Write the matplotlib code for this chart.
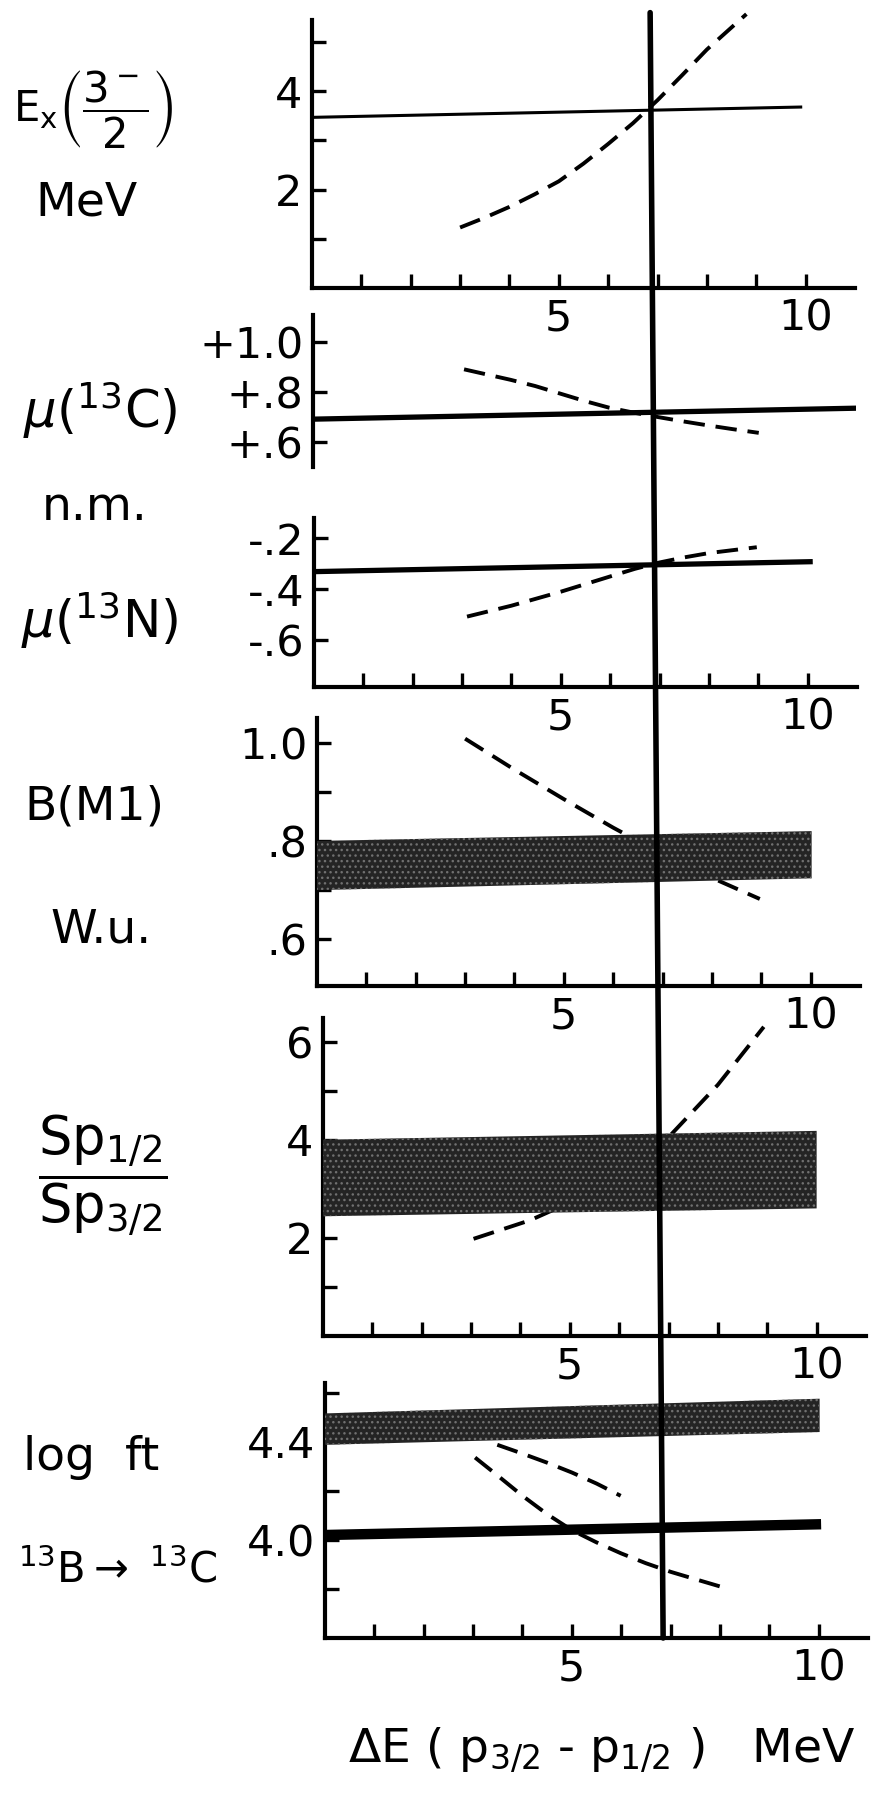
"""
plot.py - shell model comparison for A=13 vs the p3/2-p1/2 splitting
"""

import matplotlib
matplotlib.use('Agg')
import matplotlib.pyplot as plt
from matplotlib.patches import ConnectionPatch

plt.rcParams['font.family'] = ['DejaVu Sans']
plt.rcParams['mathtext.fontset'] = 'dejavusans'
plt.rcParams['mathtext.default'] = 'regular'

W, H = 881, 1809

# spin-orbit splitting where the calculation fits best
de_cross = 6.85

# Ex(3/2-)
ex_exp_x = [0, 9.9]
ex_exp_y = [3.47, 3.68]
ex_calc_x = [3.0, 3.5, 4.0, 4.5, 5.0, 5.5, 6.0, 6.5, 7.0, 7.5, 8.0, 8.5, 8.8]
ex_calc_y = [1.23, 1.43, 1.65, 1.9, 2.17, 2.53, 2.93, 3.35, 3.82, 4.33,
             4.85, 5.3, 5.57]

# mu(13C)
muc_exp_x = [0, 11]
muc_exp_y = [0.692, 0.736]
muc_calc_x = [3.06, 4.0, 4.5, 5.0, 5.5, 6.0, 6.5, 7.0, 7.5, 8.0, 8.5, 9.03]
muc_calc_y = [0.892, 0.85, 0.825, 0.795, 0.765, 0.738, 0.718, 0.7, 0.683,
              0.667, 0.652, 0.637]

# mu(13N)
mun_exp_x = [0, 10.05]
mun_exp_y = [-0.331, -0.292]
mun_calc_x = [3.1, 4.0, 5.0, 6.0, 6.5, 7.0, 7.5, 8.0, 8.97]
mun_calc_y = [-0.508, -0.465, -0.41, -0.35, -0.32, -0.295, -0.275, -0.258,
              -0.235]

# B(M1)
bm1_band_x = [0, 10.02]
bm1_band_lo = [0.70, 0.724]
bm1_band_hi = [0.80, 0.82]
bm1_calc_x = [3.0, 4.0, 5.0, 6.0, 7.0, 8.0, 8.97]
bm1_calc_y = [1.008, 0.945, 0.885, 0.827, 0.773, 0.725, 0.682]

# Sp1/2 / Sp3/2
sp_band_x = [0, 10.0]
sp_band_lo = [2.44, 2.6]
sp_band_hi = [4.0, 4.18]
sp_calc_x = [3.05, 4.2, 5.0, 6.0, 7.0, 8.0, 8.93]
sp_calc_y = [1.98, 2.36, 2.72, 3.28, 4.05, 5.12, 6.3]

# log ft 13B -> 13C
ft_band_x = [0, 10.02]
ft_band_lo = [4.388, 4.44]
ft_band_hi = [4.516, 4.576]
ft_exp_x = [0, 10.05]
ft_exp_y = [4.02, 4.064]
ft_calc1_x = [3.49, 4.0, 4.5, 5.0, 5.5, 5.99]
ft_calc1_y = [4.388, 4.352, 4.315, 4.275, 4.23, 4.18]
ft_calc2_x = [3.04, 3.5, 4.0, 4.5, 5.0, 5.5, 6.0, 6.5, 7.0, 7.5, 8.04]
ft_calc2_y = [4.336, 4.262, 4.18, 4.105, 4.04, 3.99, 3.945, 3.905, 3.87,
              3.84, 3.808]

x_ticks = list(range(1, 11))
x_ticklabels = ['', '', '', '', '5', '', '', '', '', '10']

FS = 34
TFS = 31
AX_W = 543


def px_axes(fig, left, top, bottom):
    return fig.add_axes([left / W, 1 - bottom / H, AX_W / W, (bottom - top) / H])


def setup(ax, ylim, yticks, ylabels, xaxis=True):
    ax.set_xlim(0, 11)
    ax.set_ylim(*ylim)
    ax.patch.set_visible(False)
    for s in ['top', 'right']:
        ax.spines[s].set_visible(False)
    ax.spines['left'].set_linewidth(3)
    ax.spines['bottom'].set_linewidth(3)
    ax.set_yticks(yticks)
    ax.set_yticklabels(ylabels)
    ax.tick_params(axis='y', direction='in', length=10, width=2.4,
                   pad=7, labelsize=TFS)
    if xaxis:
        ax.set_xticks(x_ticks)
        ax.set_xticklabels(x_ticklabels)
        ax.tick_params(axis='x', direction='in', length=10, width=2.4,
                       pad=7, labelsize=TFS)
    else:
        ax.spines['bottom'].set_visible(False)
        ax.set_xticks([])


def dashed(ax, x, y):
    ax.plot(x, y, color='black', linewidth=2.8, dashes=(5.5, 2.8),
            clip_on=False, zorder=2)


def band(ax, x, lo, hi):
    ax.fill_between(x, lo, hi, facecolor='#242424', edgecolor='#707070',
                    hatch='...', linewidth=0, zorder=3)


def label(fig, x, y, s, size=FS):
    fig.text(x / W, 1 - y / H, s, fontsize=size, ha='center', va='center')


fig = plt.figure(figsize=(W / 100, H / 100), dpi=100)

ax1 = px_axes(fig, 312, 20, 288)
setup(ax1, (0, 5.45), [1, 2, 3, 4, 5], ['', '2', '', '4', ''])
ax1.plot(ex_exp_x, ex_exp_y, color='black', linewidth=2.2, zorder=2)
dashed(ax1, ex_calc_x, ex_calc_y)

ax2 = px_axes(fig, 313, 315, 467)
setup(ax2, (0.5, 1.11), [0.6, 0.8, 1.0], ['+.6', '+.8', '+1.0'], xaxis=False)
ax2.plot(muc_exp_x, muc_exp_y, color='black', linewidth=3.8, zorder=2)
dashed(ax2, muc_calc_x, muc_calc_y)

ax3 = px_axes(fig, 314, 518, 687)
setup(ax3, (-0.785, -0.12), [-0.6, -0.4, -0.2], ['-.6', '-.4', '-.2'])
ax3.plot(mun_exp_x, mun_exp_y, color='black', linewidth=3.8, zorder=2)
dashed(ax3, mun_calc_x, mun_calc_y)

ax4 = px_axes(fig, 317, 718, 986)
setup(ax4, (0.505, 1.05), [0.6, 0.7, 0.8, 0.9, 1.0],
      ['.6', '', '.8', '', '1.0'])
band(ax4, bm1_band_x, bm1_band_lo, bm1_band_hi)
dashed(ax4, bm1_calc_x, bm1_calc_y)

ax5 = px_axes(fig, 323, 1018, 1336)
setup(ax5, (0, 6.48), [1, 2, 3, 4, 5, 6], ['', '2', '', '4', '', '6'])
band(ax5, sp_band_x, sp_band_lo, sp_band_hi)
dashed(ax5, sp_calc_x, sp_calc_y)

ax6 = px_axes(fig, 325, 1383, 1638)
setup(ax6, (3.6, 4.64), [3.8, 4.0, 4.2, 4.4, 4.6],
      ['', '4.0', '', '4.4', ''])
band(ax6, ft_band_x, ft_band_lo, ft_band_hi)
ax6.plot(ft_exp_x, ft_exp_y, color='black', linewidth=7.5, zorder=3,
         solid_capstyle='butt')
dashed(ax6, ft_calc1_x, ft_calc1_y)
dashed(ax6, ft_calc2_x, ft_calc2_y)

# best-fit splitting, through all panels
con = ConnectionPatch(xyA=(de_cross, 5.6), coordsA=ax1.transData,
                      xyB=(de_cross, 3.6), coordsB=ax6.transData,
                      color='black', linewidth=4, zorder=5)
fig.add_artist(con)

label(fig, 93, 110, r'$E_x\left(\dfrac{3^-}{2}\right)$', size=30)
label(fig, 87, 203, 'MeV')
label(fig, 100, 410, r'$\mathit{\mu}$($^{13}$C)', size=37)
label(fig, 95, 507, 'n.m.')
label(fig, 100, 620, r'$\mathit{\mu}$($^{13}$N)', size=37)
label(fig, 94, 807, 'B(M1)')
label(fig, 101, 930, 'W.u.')
label(fig, 103, 1175, r'$\dfrac{Sp_{1/2}}{Sp_{3/2}}$', size=38)
label(fig, 91, 1458, 'log  ft')
label(fig, 118, 1570, r'$^{13}$B$\rightarrow$ $^{13}$C', size=30)
label(fig, 602, 1750, r'$\Delta$E ( p$_{3/2}$ - p$_{1/2}$ )   MeV')

fig.savefig('out.png', dpi=100, facecolor='white')
